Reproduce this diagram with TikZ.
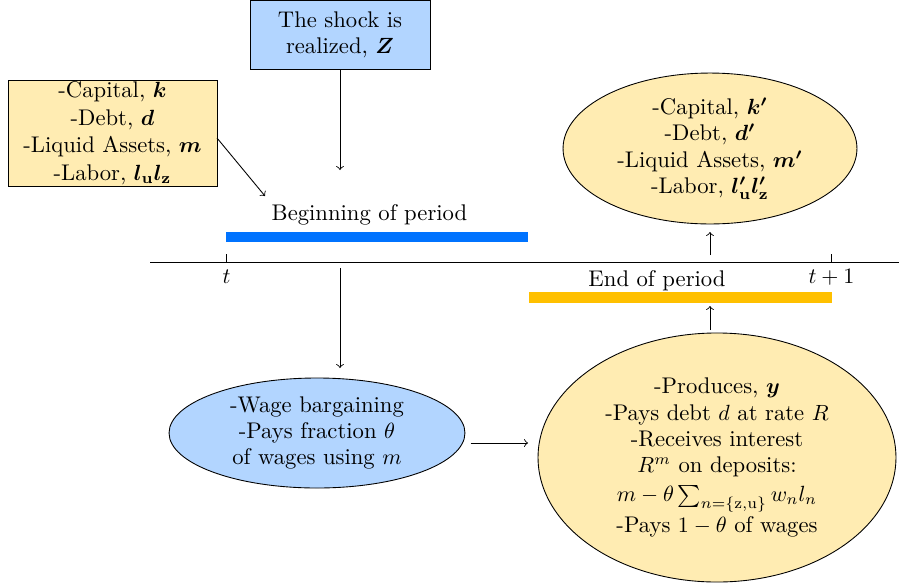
\documentclass[tikz,border=0pt]{standalone}
\usepackage{amsmath,bm}
\usetikzlibrary{shapes.geometric}
\definecolor{barblue}{RGB}{0,115,255}
\definecolor{baryellow}{RGB}{255,192,0}
\tikzset{
  txt/.style={align=center, font=\fontsize{10.3}{12}\selectfont},
  bluebox/.style={draw, fill=barblue!30, txt, inner sep=0pt},
  yellowbox/.style={draw, fill=baryellow!30, txt, inner sep=0pt},
  lbl/.style={anchor=base, font=\fontsize{10.3}{12}\selectfont},
  conn/.style={->, line width=0.4pt},
  bar/.style={line width=4.6pt}
}
\begin{document}
\begin{tikzpicture}[x=0.45455pt, y=-0.45455pt]
\useasboundingbox (0,0) rectangle (899,586);

% boxes
\node[bluebox, rectangle, minimum width=81.8pt, minimum height=31.4pt] (shock) at (340,35)
  {The shock is\\ realized, $\bm{Z}$};
\node[yellowbox, rectangle, minimum width=95pt, minimum height=48.2pt] (state) at (112.5,133)
  {-Capital, $\bm{k}$\\[0.5pt] -Debt, $\bm{d}$\\[0.5pt] -Liquid Assets, $\bm{m}$\\[0.5pt] -Labor, $\bm{l_{\mathbf{u}}l_{\mathbf{z}}}$};
\node[yellowbox, ellipse, minimum width=133.6pt, minimum height=68.6pt] (next) at (710,148.5)
  {-Capital, $\bm{k'}$\\ -Debt, $\bm{d'}$\\ -Liquid Assets, $\bm{m'}$\\ -Labor, $\bm{l'_{\mathbf{u}}l'_{\mathbf{z}}}$};
\node[bluebox, ellipse, minimum width=134.5pt, minimum height=50pt] (wage) at (317,433)
  {-Wage bargaining\\ -Pays fraction $\theta$\\ of wages using $m$};
\node[yellowbox, ellipse, minimum width=162.7pt, minimum height=113.2pt] (prod) at (717,457.5)
  {-Produces, $\bm{y}$\\ -Pays debt $d$ at rate $R$\\ -Receives interest\\ $R^m$ on deposits:\\[1pt] $m-\theta\sum_{n=\{\mathrm{z},\mathrm{u}\}} w_n l_n$\\[1pt] -Pays $1-\theta$ of wages};

% timeline
\coordinate (axL) at (150,262);
\coordinate (axR) at (899,262);
\draw (axL) -- (axR);
\coordinate (tA) at (226.5,262);
\coordinate (tB) at (831.5,262);
\coordinate (tAtop) at (226.5,254);
\coordinate (tBtop) at (831.5,254);
\draw (tA) -- (tAtop);
\draw (tB) -- (tBtop);
\node[lbl] (tlab) at (226.5,283) {$t$};
\node[lbl] (t1lab) at (831.5,283) {$t+1$};

% bars
\coordinate (bbL) at (226,237);
\coordinate (bbR) at (528,237);
\draw[bar, barblue] (bbL) -- (bbR);
\coordinate (ybL) at (529,297.5);
\coordinate (ybR) at (831.5,297.5);
\draw[bar, baryellow] (ybL) -- (ybR);
\node[lbl] (begin) at (369.5,220.5) {Beginning of period};
\node[lbl] (endp) at (657,286) {End of period};

% connectors
\coordinate (shockEnd) at (340,170);
\draw[conn] (shock.south) -- (shockEnd);
\coordinate (stateStart) at (217,138);
\coordinate (stateEnd) at (265,196);
\draw[conn] (stateStart) -- (stateEnd);
\coordinate (downStart) at (340,268);
\coordinate (downEnd) at (340,368);
\draw[conn] (downStart) -- (downEnd);
\coordinate (midStart) at (470.5,443);
\coordinate (midEnd) at (528,443);
\draw[conn] (midStart) -- (midEnd);
\coordinate (upAStart) at (710,330);
\coordinate (upAEnd) at (710,306);
\draw[conn] (upAStart) -- (upAEnd);
\coordinate (upBStart) at (710,255);
\coordinate (upBEnd) at (710,232);
\draw[conn] (upBStart) -- (upBEnd);
\end{tikzpicture}
\end{document}
